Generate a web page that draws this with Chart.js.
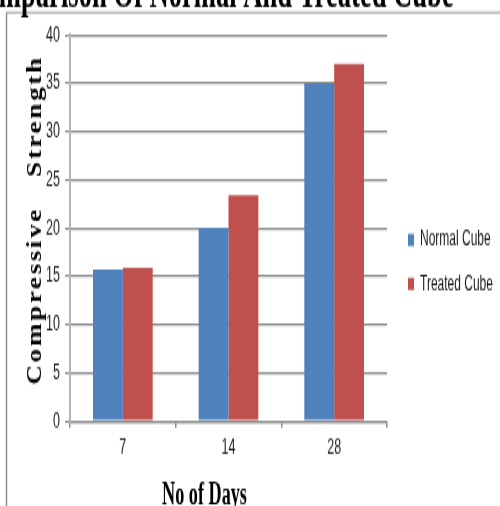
<!DOCTYPE html>
<html>
<head>
<meta charset="utf-8">
<script src="https://cdn.jsdelivr.net/npm/chart.js@4/dist/chart.umd.min.js"></script>
<style>
  html, body { margin: 0; padding: 0; background: #ffffff; }
  #outer { position: relative; width: 500px; height: 506px; overflow: hidden; background: #fff; }
  #wrap { position: absolute; left: 0; top: 0; width: 500px; height: 291px; transform-origin: 0 0; transform: scaleY(1.738832); }
</style>
</head>
<body>
<div id="outer"><div id="wrap"><canvas id="c"></canvas></div></div>
<script>
const chartTitle = 'Comparison Of Normal And Treated Cube';
const xAxisTitle = 'No of Days';
const yAxisTitle = 'Compressive Strength';
const categories = ['7', '14', '28'];
const seriesNames = ['Normal Cube', 'Treated Cube'];
const normalCube = [15.7, 20, 35];
const treatedCube = [15.9, 23.4, 37];
const yMin = 0, yMax = 40, yStep = 5;

const S = 506 / 291;          // vertical stretch of the picture
const LEGEND_DX = 7.7, LEGEND_DY = -4.9;

const decorPlugin = {
  id: 'decor',
  afterLayout(chart) {
    const l = chart.legend;
    if (l) {
      l.left += LEGEND_DX; l.right = chart.width; l.width = l.right - l.left;
      l.top += LEGEND_DY; l.bottom += LEGEND_DY;
    }
  },
  beforeDraw(chart) {
    const ctx = chart.ctx;
    ctx.save();
    ctx.fillStyle = '#ffffff';
    ctx.fillRect(0, 0, chart.width, chart.height);
    ctx.strokeStyle = '#8f8f8f';
    ctx.lineWidth = 1.5;
    ctx.beginPath();
    ctx.moveTo(6.5, chart.height);
    ctx.lineTo(6.5, 12.5 / S);
    ctx.stroke();
    ctx.lineWidth = 0.9;
    ctx.beginPath();
    ctx.moveTo(6, 12.5 / S);
    ctx.lineTo(chart.width, 12.5 / S);
    ctx.stroke();
    ctx.restore();
  },
  afterDraw(chart) {
    const ctx = chart.ctx;
    // main title (cropped at top like the reference)
    ctx.save();
    ctx.fillStyle = '#000000';
    ctx.font = 'bold 26.6px "Liberation Serif", "Times New Roman", serif';
    ctx.textAlign = 'center';
    ctx.textBaseline = 'alphabetic';
    ctx.fillText(chartTitle, 210, 7 / S);
    ctx.restore();
    // x axis title
    ctx.save();
    ctx.fillStyle = '#000000';
    ctx.font = 'bold 18.2px "Liberation Serif", "Times New Roman", serif';
    ctx.textAlign = 'center';
    ctx.textBaseline = 'alphabetic';
    ctx.fillText(xAxisTitle, 204.5, 504 / S);
    ctx.restore();
    // y axis title
    ctx.save();
    ctx.fillStyle = '#000000';
    ctx.font = 'bold 21px "Liberation Serif", "Times New Roman", serif';
    ctx.textAlign = 'center';
    ctx.textBaseline = 'alphabetic';
    try { ctx.letterSpacing = '2px'; ctx.wordSpacing = '16px'; } catch (e) {}
    ctx.translate(40.5, 220 / S);
    ctx.rotate(-Math.PI / 2);
    ctx.scale(0.745, 1);
    ctx.fillText(yAxisTitle, 0, 0);
    ctx.restore();
  }
};

const tickFont = { family: '"Liberation Sans", Arial, sans-serif', size: 12.5 };

new Chart(document.getElementById('c'), {
  type: 'bar',
  data: {
    labels: categories,
    datasets: [
      { label: seriesNames[0], data: normalCube, backgroundColor: '#4F81BD', borderWidth: 0 },
      { label: seriesNames[1], data: treatedCube, backgroundColor: '#C0504D', borderWidth: 0 }
    ]
  },
  options: {
    responsive: true,
    maintainAspectRatio: false,
    animation: false,
    devicePixelRatio: 1,
    layout: { padding: { left: 6, right: 18, top: 35 / S, bottom: 0 } },
    datasets: { bar: { barPercentage: 1.0, categoryPercentage: 0.565 } },
    plugins: {
      title: { display: false },
      tooltip: { enabled: false },
      legend: {
        display: true,
        position: 'right',
        align: 'center',
        maxWidth: 95,
        labels: {
          boxWidth: 6,
          boxHeight: 7,
          padding: 13.3,
          color: '#1a1a1a',
          font: { family: '"Liberation Sans", Arial, sans-serif', size: 12 }
        }
      }
    },
    scales: {
      x: {
        afterFit(s) { s.height = 85 / S; },
        grid: { display: true, drawOnChartArea: false, drawTicks: true, tickLength: 4, color: '#8a8a8a', lineWidth: 1.5, offset: true },
        border: { display: true, color: '#8a8a8a', width: 1.15 },
        ticks: { color: '#222222', font: tickFont, padding: 4.3, maxRotation: 0 },
        title: { display: false }
      },
      y: {
        min: yMin,
        max: yMax,
        afterFit(s) { s.width = 64; },
        grid: { display: true, color: '#8a8a8a', lineWidth: 1.15, drawTicks: true, tickLength: 5 },
        border: { display: true, color: '#b4b4b4', width: 2 },
        ticks: { stepSize: yStep, color: '#222222', font: tickFont, padding: 5 },
        title: { display: false }
      }
    }
  },
  plugins: [decorPlugin]
});
</script>
</body>
</html>
